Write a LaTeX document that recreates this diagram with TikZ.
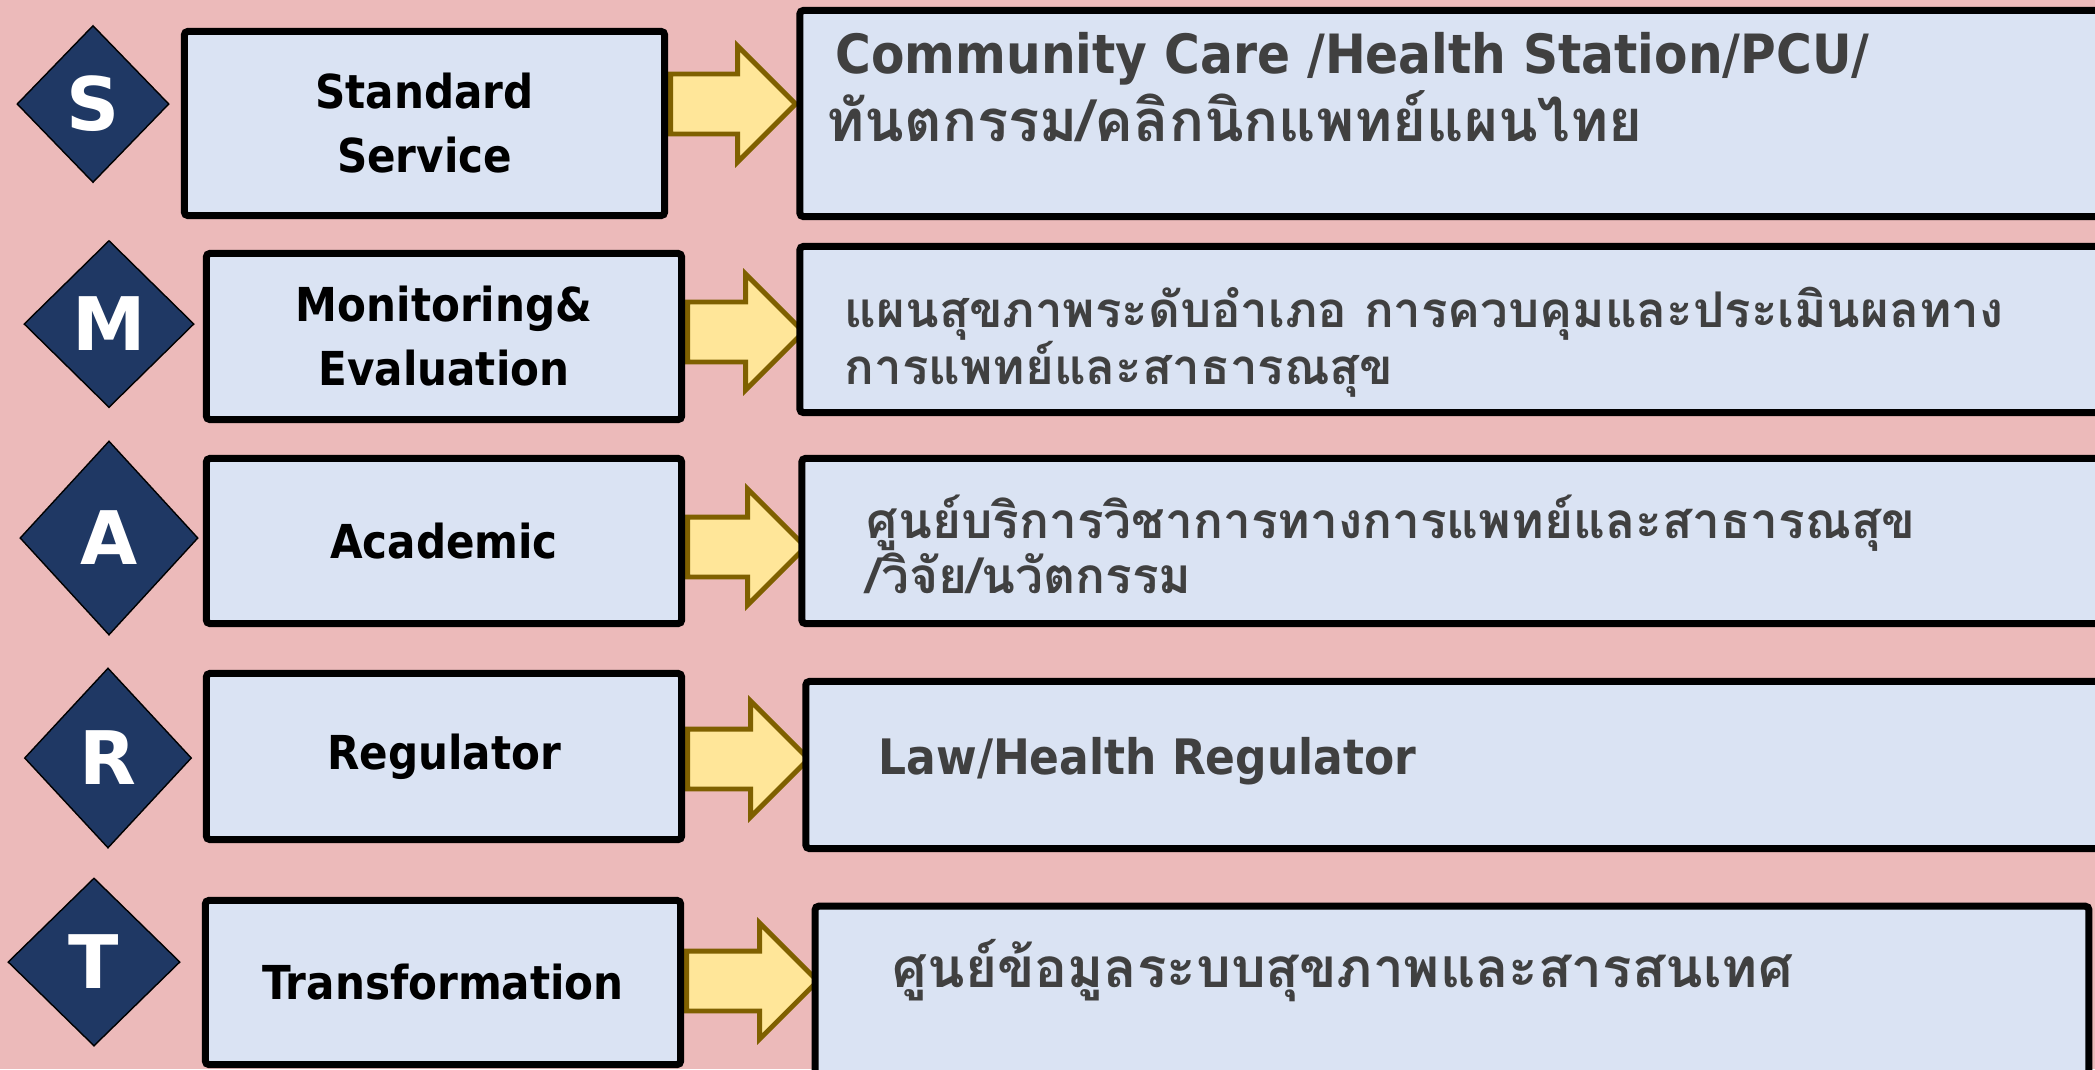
\documentclass[tikz,border=0pt]{standalone}
\usepackage{fontspec}
\newfontfamily\condfont{DejaVu Sans Condensed}
\newfontfamily\letterfont{DejaVu Sans}
\newfontfamily\thaifont[Script=Thai]{Loma}
\usetikzlibrary{shapes.geometric, shapes.arrows, backgrounds}
\definecolor{bgpink}{RGB}{236,186,186}
\definecolor{boxblue}{RGB}{218,227,243}
\definecolor{navy}{RGB}{31,56,100}
\definecolor{arrfill}{RGB}{255,230,153}
\definecolor{arrline}{RGB}{127,96,0}
\definecolor{txtgray}{RGB}{64,64,64}
\tikzset{lt/.style = {diamond, draw, thin, fill=navy, inner sep=0pt, text=white,
                      font=\letterfont\bfseries\fontsize{21}{25}\selectfont},
         lbox/.style = {rectangle, draw, line width=2pt, fill=boxblue, rounded corners=1pt,
                        inner sep=0pt, align=center, font=\condfont\bfseries\fontsize{13.3}{18.2}\selectfont},
         rbox/.style = {rectangle, draw, line width=2pt, fill=boxblue, rounded corners=1pt},
         rtxt/.style = {anchor=west, inner sep=0pt, align=left, text=txtgray},
         ttxt/.style = {rtxt},
         fatarr/.style = {single arrow, draw=arrline, line width=1.4pt, fill=arrfill, anchor=tail,
                          inner xsep=0pt, inner ysep=0.275cm, minimum width=1.11cm,
                          single arrow head extend=0.28cm, single arrow head indent=0pt}}
\newcommand\latinsize[1]{\condfont\bfseries\fontsize{#1}{18}\selectfont}
\newcommand\thaisize[2]{\thaifont\bfseries\fontsize{#1}{#2}\selectfont\lineskiplimit=-30pt}

\begin{document}
\begin{tikzpicture}[x=0.01cm, y=-0.01cm]
    \useasboundingbox (0,0) rectangle (2095,1069);
    \begin{scope}[on background layer]
      \fill[bgpink] (0,0) rectangle (2095,1069);
    \end{scope}
    \clip (0,0) rectangle (2095,1069);
    % S M A R T
    \node[lt, minimum width=1.52cm, minimum height=1.57cm] (dS) at (93,104) {S};
    \node[lt, minimum width=1.70cm, minimum height=1.67cm] (dM) at (109,324) {M};
    \node[lt, minimum width=1.78cm, minimum height=1.94cm] (dA) at (109,538) {A};
    \node[lt, minimum width=1.67cm, minimum height=1.80cm] (dR) at (108,758) {R};
    \node[lt, minimum width=1.72cm, minimum height=1.68cm] (dT) at (94,962) {T};
    % left boxes
    \node[lbox, minimum width=4.80cm, minimum height=1.84cm] (lS) at (424.5,123.5) {Standard\\Service};
    \node[lbox, minimum width=4.75cm, minimum height=1.66cm] (lM) at (444,336.5) {Monitoring\&\\Evaluation};
    \node[lbox, minimum width=4.75cm, minimum height=1.65cm] (lA) at (444,541) {Academic};
    \node[lbox, minimum width=4.75cm, minimum height=1.66cm] (lR) at (444,756.5) {Regulator};
    \node[lbox, minimum width=4.75cm, minimum height=1.64cm] (lT) at (443,982.5) {Transformation};
    % right boxes
    \node[rbox, minimum width=13.15cm, minimum height=2.06cm] (rS) at (1457.75,113.5) {};
    \node[rbox, minimum width=13.15cm, minimum height=1.66cm] (rM) at (1457.75,329.5) {};
    \node[rbox, minimum width=13.13cm, minimum height=1.65cm] (rA) at (1458.75,541) {};
    \node[rbox, minimum width=13.09cm, minimum height=1.67cm] (rR) at (1460.75,765) {};
    \node[rbox, minimum width=12.73cm, minimum height=1.735cm] (rT) at (1452,993) {};
    \node[rtxt, font=\latinsize{15.4}] (tS1) at (835,59) {Community Care /Health Station/PCU/};
    \node[ttxt, font=\thaisize{16.5}{18}] (tS2) at (826,116) {ทันตกรรม/คลิกนิกแพทย์แผนไทย};
    \node[ttxt, font=\thaisize{14}{16.2}] (tM) at (844,342.5) {แผนสุขภาพระดับอำเภอ การควบคุมและประเมินผลทาง\\การแพทย์และสาธารณสุข};
    \node[ttxt, font=\thaisize{14.1}{15.6}] (tA) at (866,544.5) {ศูนย์บริการวิชาการทางการแพทย์และสาธารณสุข\\/วิจัย/นวัตกรรม};
    \node[rtxt, font=\latinsize{13.9}] (tR) at (878,761) {Law/Health Regulator};
    \node[ttxt, font=\thaisize{15.6}{18}] (tT) at (892,971) {ศูนย์ข้อมูลระบบสุขภาพและสารสนเทศ};
    % arrows
    \begin{scope}[on background layer]
      \node[fatarr, minimum height=1.25cm] (aS) at (lS.east |- 0,104) {};
      \node[fatarr, minimum height=1.16cm] (aM) at (lM.east |- 0,332) {};
      \node[fatarr, minimum height=1.18cm] (aA) at (lA.east |- 0,547) {};
      \node[fatarr, minimum height=1.21cm] (aR) at (lR.east |- 0,759) {};
      \node[fatarr, minimum height=1.31cm] (aT) at (lT.east |- 0,981) {};
    \end{scope}
\end{tikzpicture}
\end{document}
